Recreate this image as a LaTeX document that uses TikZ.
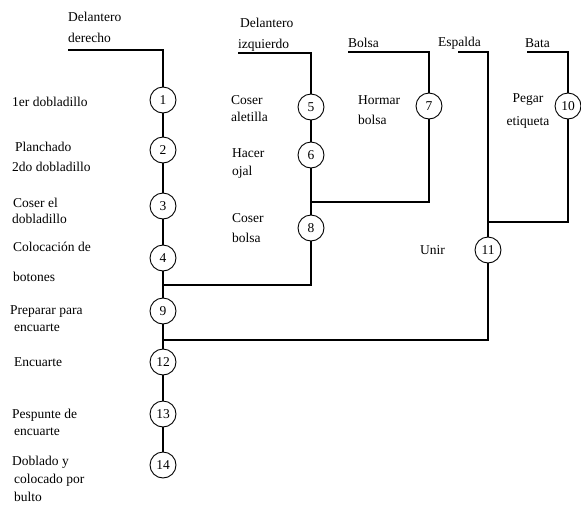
\documentclass[tikz,border=0pt]{standalone}
\usepackage{fontspec}
\setmainfont{Liberation Serif}
\begin{document}
\begin{tikzpicture}[x=1pt,y=-1pt,
  lbl/.style={anchor=west,inner sep=0pt,font=\fontsize{13.5}{15}\selectfont},
  clbl/.style={inner sep=0pt,font=\fontsize{13.5}{15}\selectfont},
  op/.style={circle,draw,line width=0.9pt,minimum size=26pt,inner sep=0pt,font=\fontsize{13.5}{15}\selectfont},
  ln/.style={line width=1.1pt}]
\useasboundingbox (0,0) rectangle (581,504);
\fill[white] (0,0) rectangle (581,504);
% operations
\node[op] (n1) at (163,100) {1};
\node[op] (n2) at (163,150) {2};
\node[op] (n3) at (163,206) {3};
\node[op] (n4) at (163,258) {4};
\node[op] (n9) at (163,311) {9};
\node[op] (n12) at (163,362) {12};
\node[op] (n13) at (163,414) {13};
\node[op] (n14) at (163,465) {14};
\node[op] (n5) at (311,107) {5};
\node[op] (n6) at (311,155) {6};
\node[op] (n8) at (311,228) {8};
\node[op] (n7) at (429,106) {7};
\node[op] (n11) at (488,250) {11};
\node[op] (n10) at (568,106) {10};
% headings
\node[lbl] (h1a) at (68,17) {Delantero};
\node[lbl] (h1b) at (68,38) {derecho};
\node[lbl] (h2a) at (240,23) {Delantero};
\node[lbl] (h2b) at (238,45) {izquierdo};
\node[lbl] (h3) at (348,43) {Bolsa};
\node[lbl] (h4) at (438,43) {Espalda};
\node[lbl] (h5) at (525,43) {Bata};
% left labels
\node[lbl] (a1) at (12,102) {1er dobladillo};
\node[lbl] (a2a) at (15,147) {Planchado};
\node[lbl] (a2b) at (12,167) {2do dobladillo};
\node[lbl] (a3a) at (13,203) {Coser el};
\node[lbl] (a3b) at (12,219) {dobladillo};
\node[lbl] (a4a) at (13,247) {Colocación de};
\node[lbl] (a4b) at (13,277) {botones};
\node[lbl] (a9a) at (10,312) {Preparar para};
\node[lbl] (a9b) at (14,328) {encuarte};
\node[lbl] (a12) at (14,362) {Encuarte};
\node[lbl] (a13a) at (12,415) {Pespunte de};
\node[lbl] (a13b) at (14,432) {encuarte};
\node[lbl] (a14a) at (12,462) {Doblado y};
\node[lbl] (a14b) at (14,480) {colocado por};
\node[lbl] (a14c) at (14,497) {bulto};
% middle labels
\node[lbl] (b5a) at (231,100) {Coser};
\node[lbl] (b5b) at (231,117) {aletilla};
\node[lbl] (b6a) at (232,153) {Hacer};
\node[lbl] (b6b) at (232,172) {ojal};
\node[lbl] (b8a) at (232,218) {Coser};
\node[lbl] (b8b) at (232,238) {bolsa};
\node[lbl] (b7a) at (358,100) {Hormar};
\node[lbl] (b7b) at (358,120) {bolsa};
\node[clbl] (b10a) at (528,100) {Pegar};
\node[clbl] (b10b) at (528,122) {etiqueta};
\node[lbl] (b11) at (420,250) {Unir};
% start points and joins
\coordinate (s1) at (68,50);
\coordinate (s2) at (238,53);
\coordinate (s7) at (348,52);
\coordinate (s11) at (458,52);
\coordinate (s10) at (527,52);
\coordinate (j1) at (163,285);
\coordinate (j2) at (311,202);
\coordinate (j3) at (488,222);
\coordinate (j4) at (163,340);
% connectors
\draw[ln] (s1) -| (n1);
\draw[ln] (n1) -- (n2);
\draw[ln] (n2) -- (n3);
\draw[ln] (n3) -- (n4);
\draw[ln] (n4) -- (n9);
\draw[ln] (n9) -- (n12);
\draw[ln] (n12) -- (n13);
\draw[ln] (n13) -- (n14);
\draw[ln] (s2) -| (n5);
\draw[ln] (n5) -- (n6);
\draw[ln] (n6) -- (n8);
\draw[ln] (n8) |- (j1);
\draw[ln] (s7) -| (n7);
\draw[ln] (n7) |- (j2);
\draw[ln] (s11) -| (n11);
\draw[ln] (s10) -| (n10);
\draw[ln] (n10) |- (j3);
\draw[ln] (n11) |- (j4);
\end{tikzpicture}
\end{document}
